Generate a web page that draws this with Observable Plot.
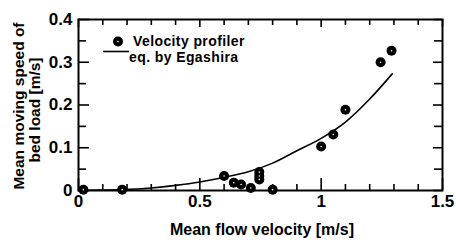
<!DOCTYPE html>
<html>
<head>
<meta charset="utf-8">
<script src="https://cdn.jsdelivr.net/npm/d3@7"></script>
<script src="https://cdn.jsdelivr.net/npm/@observablehq/plot@0.6"></script>
<style>
  html, body { margin: 0; padding: 0; background: #fff; }
  #chart svg { display: block; }
</style>
</head>
<body>
<div id="chart"></div>
<script>
// Measured data: velocity profiler
const profVelocity = [0.02, 0.18, 0.60, 0.64, 0.67, 0.71, 0.745, 0.745, 0.745, 0.80, 1.00, 1.05, 1.10, 1.245, 1.29];
const profSpeed    = [0.002, 0.002, 0.034, 0.018, 0.014, 0.006, 0.043, 0.034, 0.026, 0.002, 0.103, 0.131, 0.189, 0.300, 0.327];

// Equation by Egashira
const egaVelocity = [0, 0.1, 0.18, 0.3, 0.4, 0.5, 0.6, 0.7, 0.8, 0.9, 1.0, 1.1, 1.2, 1.293];
const egaSpeed    = [0, 0.001, 0.002, 0.006, 0.012, 0.02, 0.031, 0.044, 0.064, 0.093, 0.122, 0.16, 0.214, 0.273];

// Ticks
const xMajorTicks = [0, 0.5, 1, 1.5];
const xMinorTicks = [0.1, 0.2, 0.3, 0.4, 0.6, 0.7, 0.8, 0.9, 1.1, 1.2, 1.3, 1.4];
const yMajorTicks = [0, 0.1, 0.2, 0.3, 0.4];
const yMinorTicks = [0.05, 0.15, 0.25, 0.35];

const xTitle = "Mean flow velocity [m/s]";
const yTitleLines = ["Mean moving speed of", "bed load [m/s]"];
const legendLabels = ["Velocity profiler", "eq. by Egashira"];

const W = 456, H = 240;
const mL = 78, mR = 14, mT = 19, mB = 50;
const fw = W - mL - mR, fh = H - mT - mB;

const points = profVelocity.map((v, i) => ({v, s: profSpeed[i]}));
const curve = egaVelocity.map((v, i) => ({v, s: egaSpeed[i]}));

const svg = Plot.plot({
  width: W, height: H,
  marginLeft: mL, marginRight: mR, marginTop: mT, marginBottom: mB,
  style: {fontFamily: "'Liberation Sans', Arial, sans-serif", fontWeight: "bold", fontSize: "17px", color: "black", background: "white"},
  x: {domain: [0, 1.5], ticks: xMajorTicks, tickSize: 0, tickPadding: 4, tickFormat: d => String(d), label: null},
  y: {domain: [0, 0.4], ticks: yMajorTicks, tickSize: 0, tickPadding: 6, tickFormat: d => String(d), label: null},
  marks: [
    // inward ticks
    Plot.ruleX(xMajorTicks, {x: d => d, insetTop: fh - 12, strokeWidth: 1.6}),
    Plot.ruleX(xMinorTicks, {x: d => d, insetTop: fh - 6, strokeWidth: 1.6}),
    Plot.ruleX(xMajorTicks, {x: d => d, insetBottom: fh - 8, strokeWidth: 1.6}),
    Plot.ruleX(xMinorTicks, {x: d => d, insetBottom: fh - 6, strokeWidth: 1.6}),
    Plot.ruleY(yMajorTicks, {y: d => d, insetRight: fw - 11, strokeWidth: 1.6}),
    Plot.ruleY(yMinorTicks, {y: d => d, insetRight: fw - 8, strokeWidth: 1.6}),
    Plot.ruleY(yMajorTicks, {y: d => d, insetLeft: fw - 9, strokeWidth: 1.6}),
    Plot.ruleY(yMinorTicks, {y: d => d, insetLeft: fw - 8, strokeWidth: 1.6}),
    Plot.frame({stroke: "black", strokeWidth: 2}),
    Plot.line(curve, {x: "v", y: "s", stroke: "black", strokeWidth: 1.6, curve: "monotone-x"}),
    Plot.dot(points, {x: "v", y: "s", r: 5, fill: "black", stroke: "none"}),
    Plot.dot(points, {x: "v", y: "s", r: 0.8, fill: "white", stroke: "none"})
  ]
});

const s = d3.select(svg);
// X title
s.append("text")
  .attr("x", 262).attr("y", 234.5)
  .attr("text-anchor", "middle")
  .attr("font-size", 16).attr("font-weight", "bold")
  .attr("fill", "black")
  .text(xTitle);
// Y title (two lines)
const yt = s.append("text")
  .attr("transform", "translate(24,106) rotate(-90)")
  .attr("text-anchor", "middle")
  .attr("font-size", 15.5).attr("font-weight", "bold")
  .attr("fill", "black");
yt.append("tspan").attr("x", 0).attr("y", 0).text(yTitleLines[0]);
yt.append("tspan").attr("x", -4).attr("y", 15.5).text(yTitleLines[1]);

// Legend
const lg = s.append("g").attr("font-size", 14).attr("font-weight", "bold").attr("fill", "black")
  .attr("text-anchor", "start").attr("letter-spacing", "0.4px");
lg.append("circle").attr("cx", 118).attr("cy", 41.5).attr("r", 5).attr("fill", "black");
lg.append("circle").attr("cx", 118).attr("cy", 41.5).attr("r", 0.8).attr("fill", "white");
lg.append("text").attr("x", 133).attr("y", 46).attr("text-anchor", "start").text(legendLabels[0]);
lg.append("line").attr("x1", 103).attr("x2", 129).attr("y1", 51.5).attr("y2", 51.5)
  .attr("stroke", "black").attr("stroke-width", 1.6);
lg.append("text").attr("x", 129).attr("y", 62).attr("text-anchor", "start").text(legendLabels[1]);

document.getElementById("chart").appendChild(svg);
</script>
</body>
</html>
